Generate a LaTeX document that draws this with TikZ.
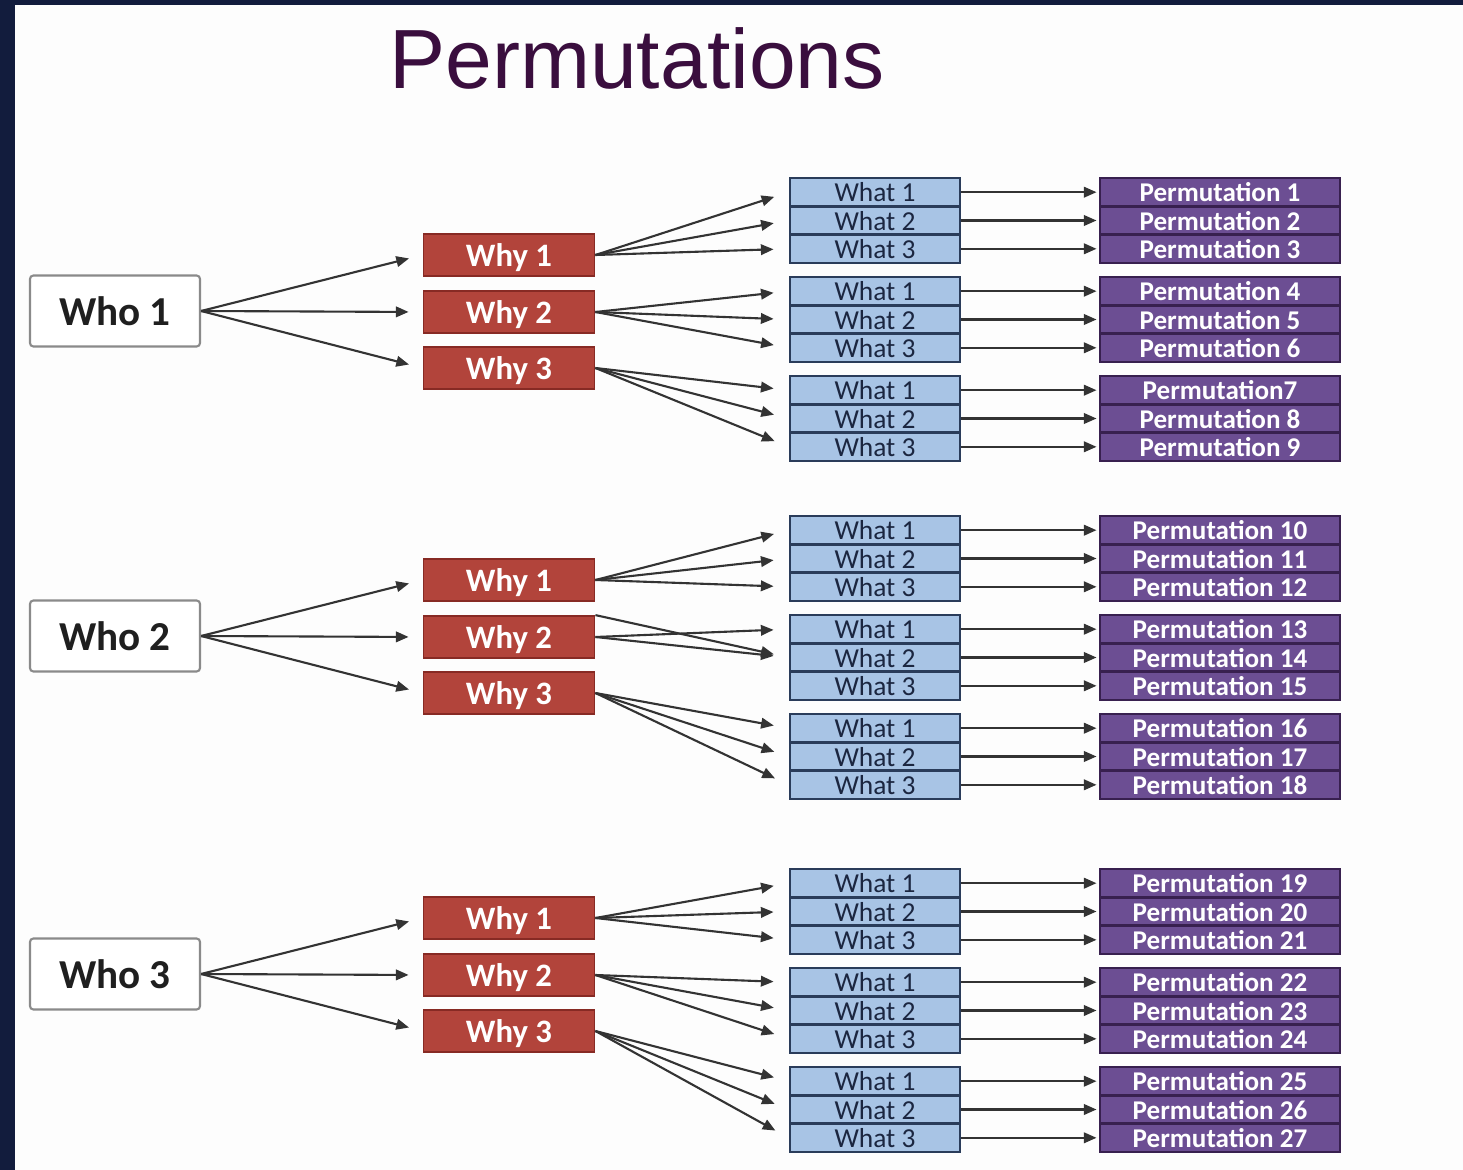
\documentclass[tikz,border=0pt]{standalone}
\usepackage{fontspec}
\setmainfont{Liberation Sans}
\newfontfamily\boxfont{Carlito}
\usetikzlibrary{arrows.meta}

\definecolor{frameblue}{HTML}{121C3D}
\definecolor{paper}{HTML}{FDFDFD}
\definecolor{titlecol}{HTML}{3A0E3E}
\definecolor{whoedge}{HTML}{8A8A8A}
\definecolor{whyfill}{HTML}{B2443B}
\definecolor{whydraw}{HTML}{872A24}
\definecolor{whatfill}{HTML}{A8C4E5}
\definecolor{whatdraw}{HTML}{2A3C5A}
\definecolor{whattext}{HTML}{1B2640}
\definecolor{permfill}{HTML}{6C4E93}
\definecolor{permdraw}{HTML}{38204F}

\tikzset{
  titletext/.style={text=titlecol,font=\fontsize{23.9}{28}\selectfont,inner sep=0pt},
  who/.style={draw=whoedge,line width=0.6pt,fill=white,rounded corners=1pt,
    minimum width=1.7cm,minimum height=0.71cm,inner sep=0pt,text=black!88,
    font=\boxfont\bfseries\fontsize{11.7}{12}\selectfont,text depth=0pt},
  why/.style={draw=whydraw,line width=0.5pt,fill=whyfill,
    minimum width=1.71cm,minimum height=0.42cm,inner sep=0pt,text=white,
    font=\boxfont\bfseries\fontsize{9.3}{10}\selectfont,text depth=0pt},
  what/.style={draw=whatdraw,line width=0.8pt,fill=whatfill,
    minimum width=1.7cm,minimum height=0.283cm,inner sep=0pt,text=whattext,
    font=\boxfont\fontsize{7.8}{8}\selectfont,text depth=0pt},
  perm/.style={draw=permdraw,line width=0.8pt,fill=permfill,
    minimum width=2.4cm,minimum height=0.283cm,inner sep=0pt,text=white,
    font=\boxfont\bfseries\fontsize{7.7}{8}\selectfont,text depth=0pt},
  link/.style={draw=black!80,line width=0.6pt,-{Triangle[length=3.6pt,width=3pt]}}
}

\begin{document}
\begin{tikzpicture}[x=0.01cm,y=-0.01cm]
  \fill[frameblue] (0,0) rectangle (1463,1170);
  \fill[paper] (15,5) rectangle (1463,1170);
  \useasboundingbox (0,0) rectangle (1463,1170);
  \node[titletext] (Title) at (637,58) {Permutations};

  \foreach \g/\wy in {1/311,2/636,3/974}{
    \node[who] (Who\g) at (115,\wy) {Who \g};
    \foreach \k/\dy in {1/-56,2/1,3/57}{
      \node[why] (Why\g\k) at (509,\wy+\dy) {Why \k};
      \draw[link,shorten >=0.14cm] (Who\g.east) -- (Why\g\k.west);
    }
  }

  \foreach \g/\k/\top in {1/1/178,1/2/277,1/3/376,2/1/516,2/2/615,2/3/714,
                          3/1/869,3/2/968,3/3/1067}{
    \foreach \r in {1,2,3}{
      \pgfmathtruncatemacro\n{9*(\g-1)+3*(\k-1)+\r}
      \node[what] (What\g\k\r) at (875,\top+14.2+28.3*\r-28.3) {What \r};
      \node[perm] (Perm\n) at (1220,\top+14.2+28.3*\r-28.3)
        {\ifnum\n=7 Permutation7\else Permutation \n\fi};
      \draw[link,shorten >=0.02cm] (What\g\k\r.east) -- (Perm\n.west);
    }
  }

  \foreach \g in {1,2,3}{
    \foreach \k in {1,2,3}{
      \ifnum\g\k=22 \else
        \foreach \r in {1,2,3}
          \draw[link,shorten >=0.15cm] (Why\g\k.east) -- (What\g\k\r.west);
      \fi
    }
  }
  \draw[link,shorten >=0.15cm] (Why22.north east) -- (What222.west);
  \draw[link,shorten >=0.15cm] (Why22.east) -- (What221.west);
  \draw[link,shorten >=0.15cm] (Why22.east) -- (What222.west);
\end{tikzpicture}
\end{document}
